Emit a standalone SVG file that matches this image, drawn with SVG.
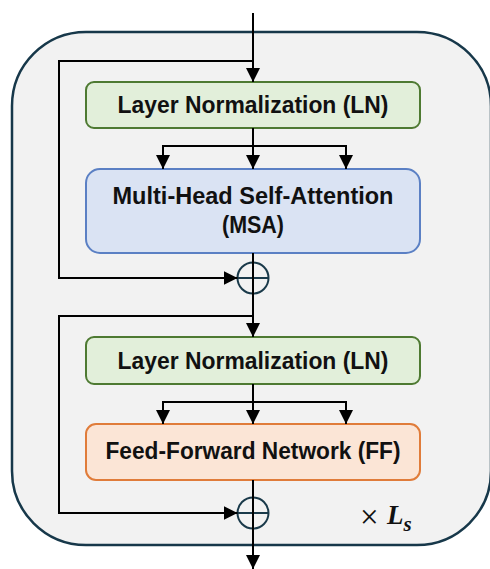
<svg xmlns="http://www.w3.org/2000/svg" width="490" height="569" viewBox="0 0 490 569">
<defs>
<marker id="arr" viewBox="0 0 14 14" refX="14" refY="7" markerWidth="14" markerHeight="14" markerUnits="userSpaceOnUse" orient="auto">
<path d="M0,0 L14,7 L0,14 Z" fill="#000"/>
</marker>
<style>
.lbl{font-family:"Liberation Sans",Arial,sans-serif;font-weight:bold;font-size:23px;fill:#111;text-anchor:middle}
.con{fill:none;stroke:#000;stroke-width:2}
.sum{fill:none;stroke:#1a3a4a;stroke-width:2}
</style>
</defs>
<rect id="block" x="12" y="32" width="479" height="513" rx="74" ry="74" fill="#f2f2f2" stroke="#17384a" stroke-width="2.5"/>
<g id="ln1">
<rect x="86" y="82" width="334" height="46" rx="8" fill="#e2efda" stroke="#4e7a32" stroke-width="2"/>
<text class="lbl" x="253" y="113" textLength="271" lengthAdjust="spacingAndGlyphs">Layer Normalization (LN)</text>
</g>
<g id="msa">
<rect x="86" y="169" width="334" height="84" rx="14" fill="#dae3f3" stroke="#5b80c4" stroke-width="2"/>
<text class="lbl" x="253" y="204" textLength="281" lengthAdjust="spacingAndGlyphs">Multi-Head Self-Attention</text>
<text class="lbl" x="253" y="233" textLength="62" lengthAdjust="spacingAndGlyphs">(MSA)</text>
</g>
<g id="add1">
<circle cx="253" cy="278" r="15.5" class="sum"/>
<line x1="237.5" y1="278" x2="268.5" y2="278" class="sum"/>
</g>
<g id="ln2">
<rect x="86" y="337" width="334" height="47" rx="8" fill="#e2efda" stroke="#4e7a32" stroke-width="2"/>
<text class="lbl" x="253" y="369" textLength="271" lengthAdjust="spacingAndGlyphs">Layer Normalization (LN)</text>
</g>
<g id="ff">
<rect x="86" y="424" width="334" height="56" rx="10" fill="#fbe5d6" stroke="#e07c3a" stroke-width="2"/>
<text class="lbl" x="253" y="459" textLength="295" lengthAdjust="spacingAndGlyphs">Feed-Forward Network (FF)</text>
</g>
<g id="add2">
<circle cx="253" cy="513" r="15.5" class="sum"/>
<line x1="237.5" y1="513" x2="268.5" y2="513" class="sum"/>
</g>
<g id="connectors">
<line x1="253" y1="13" x2="253" y2="82" class="con" marker-end="url(#arr)"/>
<polyline points="253,61 59,61 59,278 237.5,278" class="con" marker-end="url(#arr)"/>
<line x1="253" y1="128" x2="253" y2="169" class="con" marker-end="url(#arr)"/>
<polyline points="163,169 163,146 346,146 346,169" class="con"/>
<line x1="163" y1="146" x2="163" y2="169" class="con" marker-end="url(#arr)"/>
<line x1="346" y1="146" x2="346" y2="169" class="con" marker-end="url(#arr)"/>
<line x1="253" y1="253" x2="253" y2="337" class="con" marker-end="url(#arr)"/>
<polyline points="253,316 59,316 59,513 237.5,513" class="con" marker-end="url(#arr)"/>
<line x1="253" y1="384" x2="253" y2="424" class="con" marker-end="url(#arr)"/>
<polyline points="163,424 163,402 346,402 346,424" class="con"/>
<line x1="163" y1="402" x2="163" y2="424" class="con" marker-end="url(#arr)"/>
<line x1="346" y1="402" x2="346" y2="424" class="con" marker-end="url(#arr)"/>
<line x1="253" y1="480" x2="253" y2="569" class="con" marker-end="url(#arr)"/>
</g>
<text x="360" y="528" font-family="'Liberation Serif','Times New Roman',serif" font-size="33" fill="#111">×</text>
<text x="387" y="524" font-family="'Liberation Serif','Times New Roman',serif" font-size="27" font-style="italic" font-weight="bold" fill="#111">L<tspan font-size="21" dy="7">s</tspan></text>
</svg>
